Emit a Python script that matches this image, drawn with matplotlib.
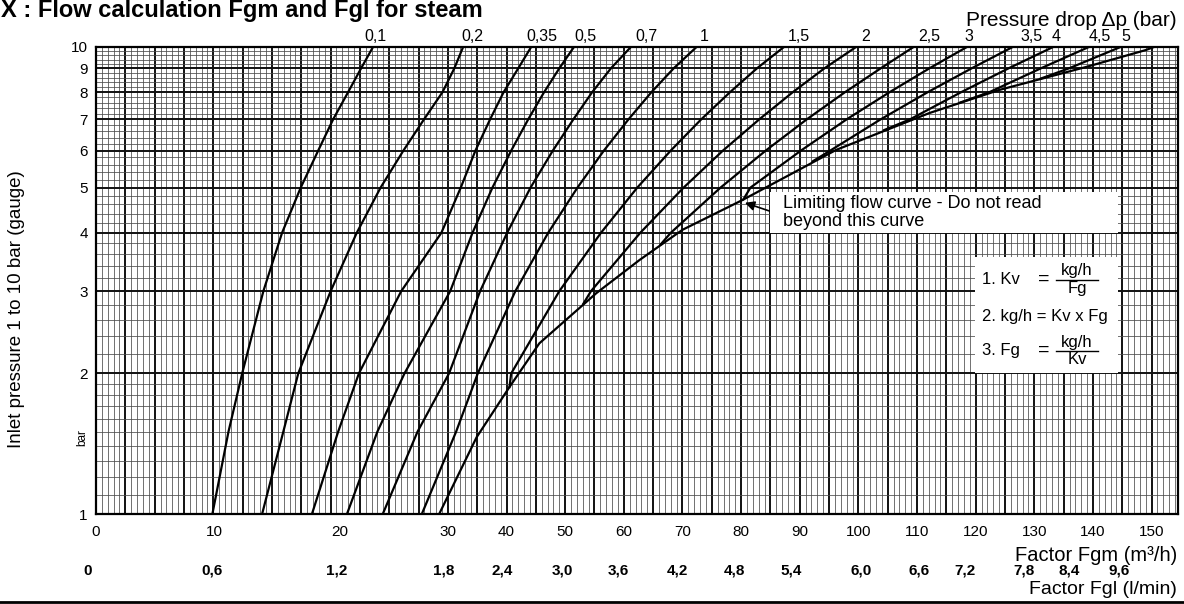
# Flow calculation chart Fgm / Fgl for steam (log pressure vs flow factor)
import numpy as np
import matplotlib
matplotlib.use("Agg")
import matplotlib.pyplot as plt
from matplotlib.patches import Rectangle
from matplotlib.lines import Line2D
from matplotlib.ticker import NullLocator, NullFormatter
from matplotlib.transforms import blended_transform_factory

plt.rcParams["font.family"] = ["Liberation Sans", "DejaVu Sans"]

# Axis labels / ticks
fgm_ticks = [0, 10, 20, 30, 40, 50, 60, 70, 80, 90, 100, 110, 120, 130, 140, 150]
fgl_labels = ["0", "0,6", "1,2", "1,8", "2,4", "3,0", "3,6", "4,2", "4,8",
              "5,4", "6,0", "6,6", "7,2", "7,8", "8,4", "9,6"]
fgl_pos = [-0.7, 9.8, 19.8, 29.6, 39.3, 49.5, 59.1, 69.1, 78.9, 88.6,
           100.5, 110.4, 118.1, 128.3, 136.0, 144.5]
p_ticks = [1, 2, 3, 4, 5, 6, 7, 8, 9, 10]
dp_labels = ["0,1", "0,2", "0,35", "0,5", "0,7", "1", "1,5", "2", "2,5",
             "3", "3,5", "4", "4,5", "5"]
dp_label_pos = [23.3, 34.2, 46.1, 53.5, 63.9, 73.7, 89.9, 101.3, 112.0,
                118.9, 129.6, 133.7, 141.1, 145.6]

# Curves reaching the bottom (1 bar): Fgm at each inlet pressure
p_std = [1, 1.5, 2, 3, 4, 5, 6, 7, 8, 9, 10]
fgm_01 = [9.8, 11.1, 12.2, 13.9, 15.4, 16.9, 18.3, 19.5, 20.8, 22.0, 23.1]
fgm_02 = [13.8, 15.5, 16.7, 19.3, 21.6, 23.8, 25.9, 27.8, 29.5, 31.1, 32.6]
fgm_035 = [17.8, 19.9, 21.8, 25.7, 29.4, 32.2, 34.7, 37.2, 39.5, 42.0, 44.2]
fgm_05 = [20.7, 23.5, 26.0, 30.4, 34.2, 37.6, 40.8, 43.7, 46.4, 49.0, 51.5]
fgm_07 = [24.0, 27.2, 30.2, 35.5, 40.1, 44.1, 47.9, 51.4, 54.6, 57.8, 61.2]
fgm_10 = [27.6, 31.4, 35.1, 41.5, 47.1, 52.1, 56.6, 60.8, 64.7, 68.5, 72.4]

# Limiting flow curve
lim_fgm = [29.2, 34.9, 40.5, 45.6, 55.3, 62.7, 70.0, 80.2, 96.2, 112.1, 124.0, 138.8, 149.0, 150.4]
lim_p = [1, 1.46, 1.87, 2.32, 2.97, 3.50, 4.06, 4.70, 6.02, 7.22, 8.09, 9.06, 9.85, 10]

# Curves starting on the limiting curve
fgm_15 = [40.5, 40.8, 49.0, 56.1, 62.3, 68.0, 73.2, 78.1, 82.7, 87.3]
p_15 = [1.87, 2, 3, 4, 5, 6, 7, 8, 9, 10]
fgm_20 = [53.1, 54.4, 62.8, 70.2, 76.9, 83.1, 88.8, 94.2, 99.6]
p_20 = [2.82, 3, 4, 5, 6, 7, 8, 9, 10]
fgm_25 = [66.3, 68.0, 76.5, 84.2, 91.2, 97.7, 103.8, 109.4]
p_25 = [3.78, 4, 5, 6, 7, 8, 9, 10]
fgm_30 = [80.4, 81.6, 90.2, 98.0, 105.3, 112.1, 118.5]
p_30 = [4.72, 5, 6, 7, 8, 9, 10]
fgm_35 = [92.2, 95.2, 103.8, 111.8, 119.3, 126.3]
p_35 = [5.69, 6, 7, 8, 9, 10]
fgm_40 = [104.4, 108.8, 117.5, 125.6, 133.2]
p_40 = [6.64, 7, 8, 9, 10]
fgm_45 = [117.3, 122.3, 131.1, 139.3]
p_45 = [7.6, 8, 9, 10]
fgm_50 = [131.0, 135.9, 144.7]
p_50 = [8.55, 9, 10]

# The printed Fgm axis is not linear: 0-30 is stretched compared with 30-150
fgm_knots = [0, 10, 20, 30]
grid_knots = [0, 4.05, 8.3, 12]


def fgm_to_grid(x):
    x = np.asarray(x, dtype=float)
    return np.where(x > 30, 12 + (x - 30) / 5,
                    np.where(x < 0, x * 0.405, np.interp(x, fgm_knots, grid_knots)))


def grid_to_fgm(g):
    g = np.asarray(g, dtype=float)
    return np.where(g > 12, 30 + (g - 12) * 5,
                    np.where(g < 0, g / 0.405, np.interp(g, grid_knots, fgm_knots)))


W, H = 1184, 604


def fx(px):
    return px / W


def fy(py):
    return 1 - py / H


fig = plt.figure(figsize=(W / 100, H / 100), dpi=100)
ax = fig.add_axes([fx(96), fy(514), (1178 - 96) / W, (514 - 47) / H])
ax.set_xscale("function", functions=(fgm_to_grid, grid_to_fgm))
ax.set_yscale("log")
x_max = float(grid_to_fgm(36.9))
ax.set_xlim(0, x_max)
ax.set_ylim(1, 10)

# graph paper grid
g = np.round(np.arange(0, 36.9, 0.2), 2)
heavy = np.isclose(g, np.round(g))
ax.vlines(grid_to_fgm(g[~heavy]), 1, 10, color="#4a4a4a", lw=0.55, zorder=1)
ax.vlines(grid_to_fgm(g[heavy]), 1, 10, color="#111111", lw=1.4, zorder=1)
ph = np.round(np.concatenate([np.arange(1, 2, 0.1), np.arange(2, 10.01, 0.2)]), 2)
ph_heavy = np.isclose(ph, np.round(ph))
ax.hlines(ph[~ph_heavy], 0, x_max, color="#4a4a4a", lw=0.55, zorder=1)
ax.hlines(ph[ph_heavy], 0, x_max, color="#111111", lw=1.4, zorder=1)

# curves
for f in [fgm_01, fgm_02, fgm_035, fgm_05, fgm_07, fgm_10]:
    ax.plot(f, p_std, color="black", lw=1.6, zorder=3)
ax.plot(lim_fgm, lim_p, color="black", lw=1.6, zorder=3)
for f, p in [(fgm_15, p_15), (fgm_20, p_20), (fgm_25, p_25), (fgm_30, p_30),
             (fgm_35, p_35), (fgm_40, p_40), (fgm_45, p_45), (fgm_50, p_50)]:
    ax.plot(f, p, color="black", lw=1.6, zorder=3)

for s in ax.spines.values():
    s.set_linewidth(1.6)
    s.set_zorder(4)

ax.set_xticks(fgm_ticks)
ax.set_xticklabels([str(t) for t in fgm_ticks], fontsize=11)
ax.set_yticks(p_ticks)
ax.set_yticklabels([str(t) for t in p_ticks], fontsize=11)
ax.yaxis.set_minor_locator(NullLocator())
ax.yaxis.set_minor_formatter(NullFormatter())
ax.xaxis.set_minor_locator(NullLocator())
ax.tick_params(axis="x", length=0, pad=8)
ax.tick_params(axis="y", length=0, pad=6)

trans = blended_transform_factory(ax.transData, ax.transAxes)
for v, lab in zip(fgl_pos, fgl_labels):
    ax.text(v, -0.121, lab, transform=trans, ha="center", va="center",
            fontsize=11, fontweight="bold")
for v, lab in zip(dp_label_pos, dp_labels):
    ax.text(v, 1.022, lab, transform=trans, ha="center", va="center", fontsize=11.5)

# arrow to limiting curve
ax.annotate("", xy=(80.2, 4.66), xytext=(85.4, 4.43),
            arrowprops=dict(arrowstyle="-|>", color="black", lw=1.2, mutation_scale=14),
            zorder=6)

# text boxes
fig.add_artist(Rectangle((fx(770), fy(233)), 348 / W, 41 / H, transform=fig.transFigure,
                         fc="white", ec="none", zorder=5))
fig.text(fx(783), fy(203), "Limiting flow curve - Do not read", fontsize=13,
         va="center", zorder=6)
fig.text(fx(783), fy(222), "beyond this curve", fontsize=13, va="center", zorder=6)

fig.add_artist(Rectangle((fx(975), fy(373)), 143 / W, 116 / H, transform=fig.transFigure,
                         fc="white", ec="none", zorder=5))


def fraction(y_line, top, bottom):
    fig.text(fx(1044), fy(y_line - 1), "=", fontsize=14, ha="center", va="center", zorder=6)
    fig.text(fx(1077), fy(y_line - 9), top, fontsize=12, ha="center", va="center", zorder=6)
    fig.text(fx(1077), fy(y_line + 9), bottom, fontsize=12, ha="center", va="center", zorder=6)
    fig.add_artist(Line2D([fx(1056), fx(1098)], [fy(y_line), fy(y_line)], color="black",
                          lw=1.0, transform=fig.transFigure, zorder=6))


fig.text(fx(982), fy(279), "1. Kv", fontsize=12, va="center", zorder=6)
fraction(280, "kg/h", "Fg")
fig.text(fx(982), fy(316), "2. kg/h = Kv x Fg", fontsize=12, va="center", zorder=6)
fig.text(fx(982), fy(351), "3. Fg", fontsize=12, va="center", zorder=6)
fraction(351, "kg/h", "Kv")

# titles and axis captions
fig.text(fx(1), fy(17), "X : Flow calculation Fgm and Fgl for steam", fontsize=17,
         fontweight="bold", va="baseline")
fig.text(fx(1177), fy(26), "Pressure drop \u0394p (bar)", fontsize=15, ha="right",
         va="baseline")
fig.text(fx(1177), fy(561), "Factor Fgm (m\u00b3/h)", fontsize=14.5, ha="right", va="baseline")
fig.text(fx(1177), fy(594), "Factor Fgl (l/min)", fontsize=14, ha="right", va="baseline")
fig.text(fx(17), fy(309), "Inlet pressure 1 to 10 bar (gauge)", fontsize=13.5,
         rotation=90, ha="center", va="center")
fig.text(fx(82), fy(438), "bar", fontsize=8.5, rotation=90, ha="center", va="center")

fig.add_artist(Line2D([0, 1], [fy(602), fy(602)], color="black", lw=2,
                      transform=fig.transFigure))

fig.savefig("out.png", dpi=100)
